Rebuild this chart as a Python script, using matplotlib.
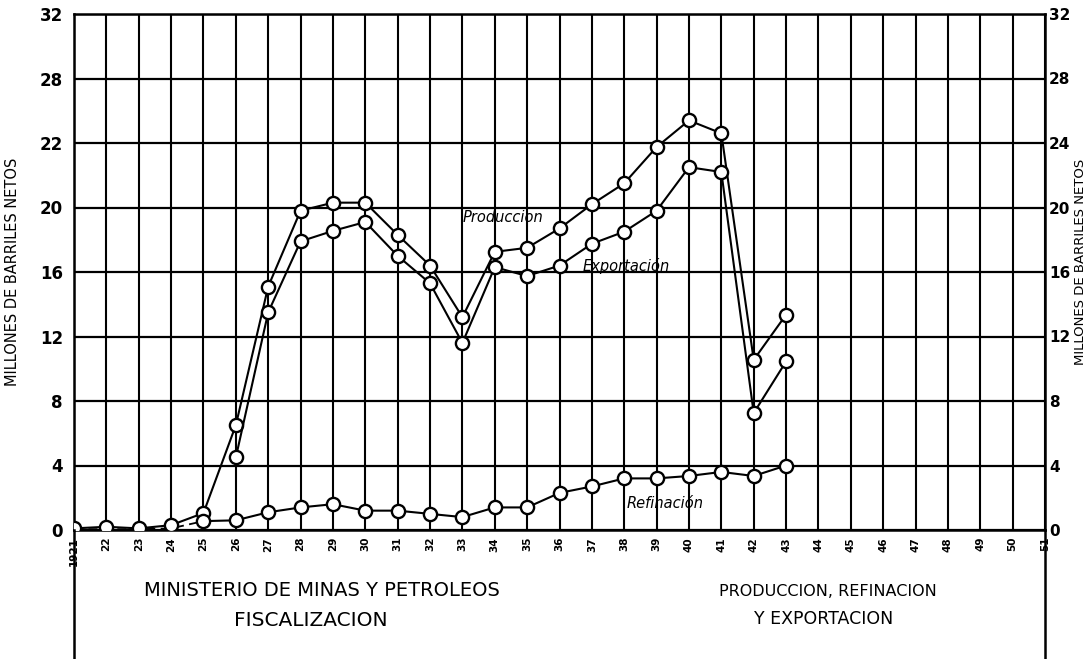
import matplotlib
matplotlib.use("Agg")
import matplotlib.pyplot as plt
from matplotlib.lines import Line2D

# ---- data ----
years = list(range(1921, 1944))
produccion = [0.1, 0.2, 0.1, 0.3, 1.05, 6.5, 15.1, 19.8, 20.3, 20.3, 18.3, 16.4,
              13.2, 17.25, 17.5, 18.7, 20.2, 21.5, 23.75, 25.4, 24.6, 10.55, 13.35]
export_years = list(range(1926, 1944))
exportacion = [4.5, 13.5, 17.9, 18.55, 19.1, 17.0, 15.3, 11.6, 16.3, 15.75, 16.4,
               17.75, 18.5, 19.8, 22.5, 22.2, 7.25, 10.45]
ref_years = list(range(1925, 1944))
refinacion = [0.55, 0.6, 1.1, 1.4, 1.6, 1.2, 1.2, 1.0, 0.8, 1.4, 1.4, 2.3, 2.7,
              3.2, 3.2, 3.35, 3.6, 3.35, 4.0]
ref_early_years = [1921, 1922, 1923, 1924, 1925]
ref_early = [0.05, 0.05, 0.05, 0.1, 0.55]

axis_years = list(range(1921, 1952))
xtick_labels = ["1921"] + [str(y % 100) for y in range(1922, 1952)]
y_ticks = [0, 4, 8, 12, 16, 20, 24, 28, 32]
left_tick_labels = ["0", "4", "8", "12", "16", "20", "22", "28", "32"]
right_tick_labels = ["0", "4", "8", "12", "16", "20", "24", "28", "32"]

plt.rcParams["font.family"] = ["DejaVu Sans"]

W, H = 1092, 659
fig = plt.figure(figsize=(W / 100, H / 100), dpi=100)
x0, x1 = 74, 1045
y_top, y_bot = 14, 530
ax = fig.add_axes([x0 / W, 1 - y_bot / H, (x1 - x0) / W, (y_bot - y_top) / H])

ax.set_xlim(1921, 1951)
ax.set_ylim(0, 32)

# grid
for y in axis_years:
    ax.axvline(y, color="black", lw=1.5, zorder=1)
for v in y_ticks:
    ax.axhline(v, color="black", lw=1.6, zorder=1)
for s in ax.spines.values():
    s.set_linewidth(1.8)

mk = dict(marker="o", markersize=9.5, markerfacecolor="white",
          markeredgecolor="black", markeredgewidth=1.7, color="black", lw=1.5, zorder=3)
ax.plot(ref_early_years, ref_early, color="black", lw=1.3, ls=(0, (5, 3)), zorder=2)
ax.plot(years, produccion, **mk)
ax.plot(export_years, exportacion, **mk)
ax.plot(ref_years, refinacion, **mk)

# ticks
ax.set_xticks(axis_years)
ax.set_xticklabels(xtick_labels, rotation=90, fontsize=7.5, fontweight="bold")
ax.tick_params(axis="x", length=0, pad=5)
ax.set_yticks(y_ticks)
ax.set_yticklabels(left_tick_labels, fontsize=12, fontweight="bold")
ax.tick_params(axis="y", length=0, pad=8)

ax2 = ax.twinx()
ax2.set_ylim(0, 32)
ax2.set_yticks(y_ticks)
ax2.set_yticklabels(right_tick_labels, fontsize=11, fontweight="bold")
ax2.tick_params(axis="y", length=0, pad=3)
for s in ax2.spines.values():
    s.set_visible(False)

ax.set_ylabel("MILLONES DE BARRILES NETOS", fontsize=10.5, labelpad=14)
fig.text(1081 / W, 1 - 262 / H, "MILLONES DE BARRILES NETOS", fontsize=9.5,
         rotation=90, ha="center", va="center")

# series labels
ax.text(1933.02, 19.35, "Produccion", fontsize=10.5, style="italic", ha="left", va="center")
ax.text(1936.72, 16.4, "Exportación", fontsize=10.5, style="italic", ha="left", va="center")
ax.text(1938.08, 1.67, "Refinación", fontsize=10.5, style="italic", ha="left", va="center")

# frame extension below plot
fig.add_artist(Line2D([x0 / W, x0 / W], [0, 1 - y_bot / H], color="black", lw=1.8))
fig.add_artist(Line2D([x1 / W, x1 / W], [0, 1 - y_bot / H], color="black", lw=1.8))

# bottom titles
fig.text(322 / W, 1 - 590 / H, "MINISTERIO DE MINAS Y PETROLEOS", fontsize=14,
         ha="center", va="center")
fig.text(311 / W, 1 - 621 / H, "FISCALIZACION", fontsize=14.5, ha="center", va="center")
fig.text(828 / W, 1 - 592 / H, "PRODUCCION, REFINACION", fontsize=11.5,
         ha="center", va="center")
fig.text(824 / W, 1 - 619 / H, "Y EXPORTACION", fontsize=12.5, ha="center", va="center")

fig.savefig("out.png", dpi=100)
